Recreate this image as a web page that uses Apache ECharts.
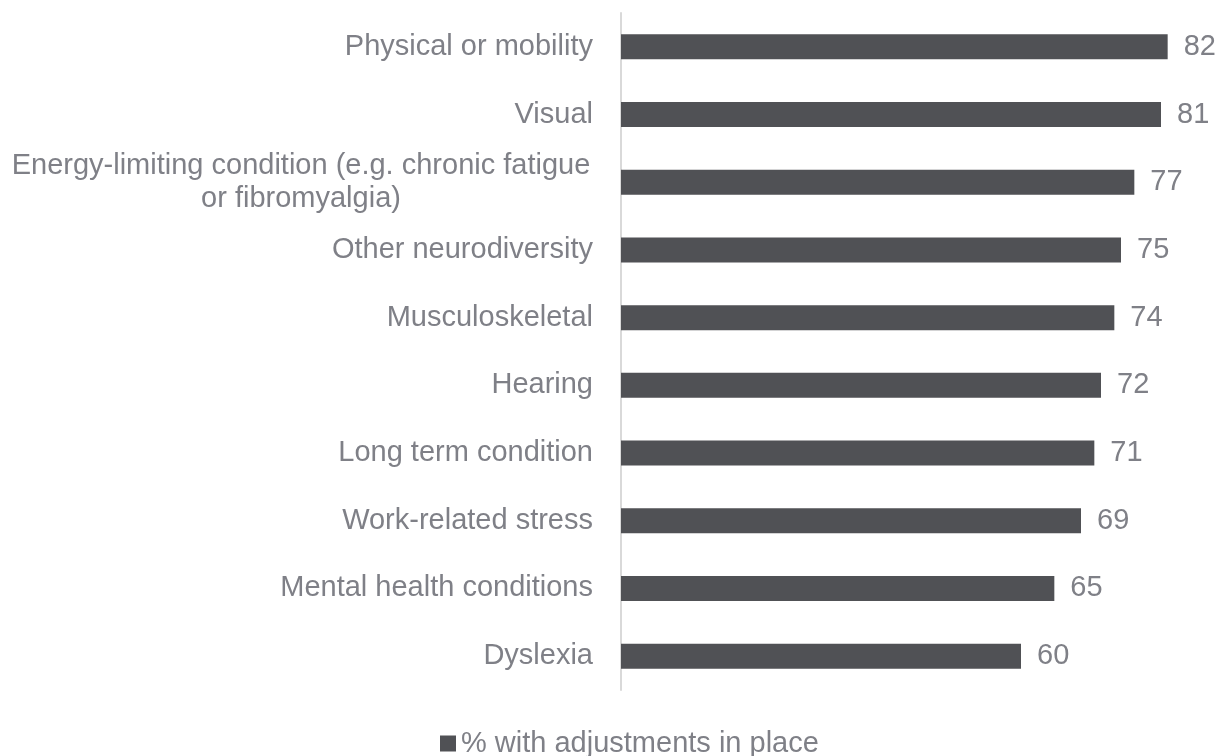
<!DOCTYPE html>
<html>
<head>
<meta charset="utf-8">
<script src="https://cdn.jsdelivr.net/npm/echarts@6/dist/echarts.min.js"></script>
<style>
  html, body { margin: 0; padding: 0; background: #fff; }
  #chart { width: 1221px; height: 756px; }
</style>
</head>
<body>
<div id="chart"></div>
<script>
// categories, top to bottom
const categories = [
  'Physical or mobility',
  'Visual',
  'Energy-limiting condition (e.g. chronic fatigue\nor fibromyalgia)',
  'Other neurodiversity',
  'Musculoskeletal',
  'Hearing',
  'Long term condition',
  'Work-related stress',
  'Mental health conditions',
  'Dyslexia'
];
const values = [82, 81, 77, 75, 74, 72, 71, 69, 65, 60];
const seriesName = '% with adjustments in place';

const textGrey = '#7f8087';
const barColor = '#505155';
const font = '"Liberation Sans", Arial, sans-serif';
const fs = 29;

let chart = echarts.init(document.getElementById('chart'));

chart.setOption({
  animation: false,
  textStyle: { fontFamily: font },
  grid: {
    left: 621,
    right: 0,
    top: 13,
    height: 677
  },
  legend: {
    data: [seriesName],
    top: 724,
    left: 435,
    icon: 'rect',
    itemWidth: 16,
    itemHeight: 16,
    itemGap: 5,
    textStyle: { color: textGrey, fontSize: fs, fontFamily: font, padding: [0, 0, 0, 0] }
  },
  xAxis: {
    type: 'value',
    min: 0,
    max: 90,
    show: false
  },
  yAxis: {
    type: 'category',
    inverse: true,
    data: categories,
    axisLine: { show: true, lineStyle: { color: '#d9d9d9', width: 2 } },
    axisTick: { show: false },
    axisLabel: {
      color: textGrey,
      fontSize: fs,
      fontFamily: font,
      margin: 28,
      lineHeight: 33,
      // wrapped label lines are centred on each other
      formatter: function (val) {
        if (val.indexOf('\n') < 0) return val;
        return val.split('\n').map(function (l) { return '{c|' + l + '}'; }).join('\n');
      },
      rich: {
        c: { width: 584, align: 'center', color: textGrey, fontSize: fs, fontFamily: font, lineHeight: 33 }
      }
    }
  },
  series: [{
    name: seriesName,
    type: 'bar',
    data: values,
    barCategoryGap: '63%',
    itemStyle: { color: barColor },
    label: {
      show: true,
      position: 'right',
      distance: 16,
      color: textGrey,
      fontSize: fs,
      fontFamily: font
    }
  }]
});
</script>
</body>
</html>
